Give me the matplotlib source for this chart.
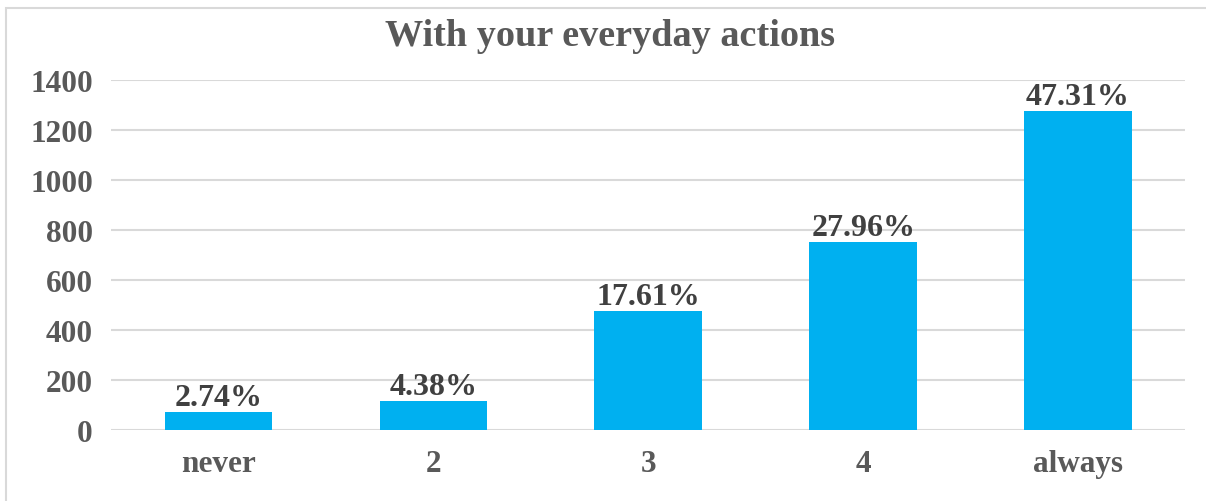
import matplotlib.pyplot as plt
from matplotlib.patches import Rectangle

# answers to "With your everyday actions"
categories = ['never', '2', '3', '4', 'always']
counts = [74, 118, 475, 754, 1276]
shares = ['2.74%', '4.38%', '17.61%', '27.96%', '47.31%']
y_ticks = [0, 200, 400, 600, 800, 1000, 1200, 1400]

plt.rcParams['font.family'] = ['Liberation Serif', 'DejaVu Serif']
plt.rcParams['font.weight'] = 'bold'

fig = plt.figure(figsize=(12.06, 5.02), dpi=100)
ax = fig.add_axes([0.092, 0.1414, 0.891, 0.6972])

x = range(len(categories))
bars = ax.bar(x, counts, width=0.5, color='#00B0F0', zorder=3)

for bar, txt in zip(bars, shares):
    ax.annotate(txt, (bar.get_x() + bar.get_width() / 2, bar.get_height()),
                xytext=(0, 0), textcoords='offset points',
                ha='center', va='bottom', fontsize=23, fontweight='bold',
                color='#404040')

ax.set_xlim(-0.5, len(categories) - 0.5)
ax.set_ylim(0, 1400)
ax.set_yticks(y_ticks)
ax.set_xticks(list(x))
ax.set_xticklabels(categories)
ax.grid(axis='y', color='#D9D9D9', linewidth=1.5, zorder=0)
for s in ax.spines.values():
    s.set_visible(False)
ax.tick_params(length=0, labelsize=22.5, colors='#595959')
ax.tick_params(axis='y', pad=13)
ax.tick_params(axis='x', pad=14)
for lab in ax.get_xticklabels() + ax.get_yticklabels():
    lab.set_fontweight('bold')

fig.text(0.506, 0.928, 'With your everyday actions', ha='center', va='center',
         fontsize=27.5, fontweight='bold', color='#595959')

# light frame round the chart
fig.patches.append(Rectangle((0.005, -0.01), 1.0, 0.993, transform=fig.transFigure,
                             fill=False, edgecolor='#D9D9D9', linewidth=1.5))

fig.savefig('out.png', dpi=100)
